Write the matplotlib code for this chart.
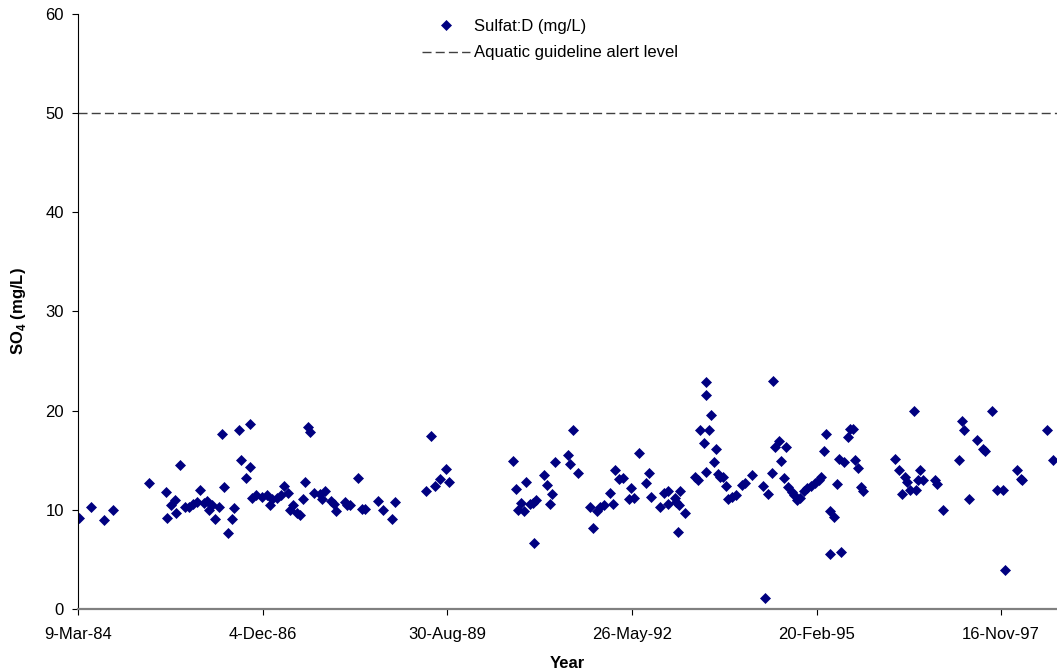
import matplotlib
matplotlib.use('Agg')
import matplotlib.pyplot as plt
from matplotlib.lines import Line2D
import numpy as np
import pandas as pd

plt.rcParams['font.family'] = ['Liberation Sans', 'DejaVu Sans']
plt.rcParams['mathtext.fontset'] = 'custom'
plt.rcParams['mathtext.rm'] = 'Liberation Sans'
plt.rcParams['mathtext.bf'] = 'Liberation Sans:bold'

# sample dates as excel serial day numbers (origin 30-Dec-1899)
sample_day = [
    30754, 30818, 30893, 30941, 31137, 31229, 31233, 31251, 31278, 31283,
    31301, 31327, 31350, 31372, 31395, 31413, 31435, 31450, 31462, 31477,
    31494, 31516, 31531, 31543, 31565, 31585, 31597, 31621, 31634, 31662,
    31679, 31680, 31693, 31716, 31747, 31774, 31788, 31801, 31828, 31850,
    31864, 31886, 31897, 31915, 31937, 31955, 31969, 31982, 31994, 32009,
    32030, 32063, 32074, 32090, 32121, 32135, 32150, 32198, 32207, 32225,
    32265, 32289, 32307, 32375, 32402, 32453, 32467, 32637, 32664, 32686,
    32713, 32742, 32761, 33106, 33122, 33131, 33150, 33164, 33178, 33200,
    33214, 33218, 33232, 33276, 33290, 33304, 33317, 33331, 33402, 33416,
    33429, 33458, 33521, 33537, 33561, 33579, 33597, 33633, 33648, 33660,
    33678, 33702, 33732, 33745, 33759, 33786, 33828, 33844, 33855, 33900,
    33925, 33943, 33945, 33981, 33990, 34000, 34003, 34012, 34039, 34093,
    34106, 34120, 34138, 34151, 34152, 34150, 34165, 34180, 34192, 34205,
    34216, 34228, 34246, 34261, 34273, 34292, 34313, 34346, 34364, 34403,
    34459, 34472, 34487, 34508, 34512, 34526, 34544, 34557, 34571, 34586,
    34598, 34617, 34629, 34644, 34662, 34680, 34698, 34720, 34743, 34761,
    34775, 34788, 34802, 34824, 34823, 34846, 34860, 34869, 34884, 34900,
    34923, 34932, 34947, 34956, 34977, 34992, 35001, 35176, 35199, 35215,
    35230, 35242, 35257, 35279, 35288, 35297, 35311, 35329, 35392, 35402,
    35437, 35519, 35540, 35546, 35577, 35621, 35654, 35663, 35700, 35730,
    35759, 35773, 35835, 35856, 35865, 35997, 36028,
]
sulfate = [
    9.2, 10.3, 9.0, 10.0, 12.7, 11.8, 9.2, 10.5, 11.0, 9.7,
    14.5, 10.3, 10.3, 10.6, 10.8, 12.0, 10.7, 10.9, 10.0, 10.5,
    9.1, 10.3, 17.6, 12.3, 7.7, 9.1, 10.2, 18.0, 15.0, 13.2,
    18.7, 14.3, 11.2, 11.5, 11.3, 11.5, 10.5, 11.1, 11.2, 11.5,
    12.4, 11.7, 10.0, 10.5, 9.7, 9.5, 11.1, 12.8, 18.4, 17.8,
    11.7, 11.6, 11.1, 11.9, 10.9, 10.6, 9.9, 10.8, 10.5, 10.5,
    13.2, 10.1, 10.1, 10.9, 10.0, 9.1, 10.8, 11.9, 17.4, 12.4,
    13.1, 14.1, 12.8, 14.9, 12.1, 10.0, 10.7, 9.9, 12.8, 10.6,
    10.7, 6.7, 11.0, 13.5, 12.5, 10.6, 11.6, 14.8, 15.5, 14.6,
    18.0, 13.7, 10.3, 8.2, 9.9, 10.3, 10.5, 11.7, 10.6, 14.0,
    13.1, 13.2, 11.1, 12.2, 11.2, 15.7, 12.7, 13.7, 11.3, 10.3,
    11.7, 11.9, 10.6, 11.2, 10.8, 7.8, 10.5, 11.9, 9.7, 13.3,
    13.0, 18.0, 16.7, 22.9, 21.6, 13.8, 18.0, 19.6, 14.8, 16.1,
    13.6, 13.3, 13.3, 12.4, 11.1, 11.3, 11.5, 12.5, 12.7, 13.5,
    12.4, 1.1, 11.6, 13.7, 23.0, 16.3, 16.9, 14.9, 13.2, 16.3,
    12.3, 11.8, 11.5, 11.0, 11.2, 11.9, 12.2, 12.4, 12.7, 13.0,
    13.3, 15.9, 17.6, 9.9, 5.5, 9.3, 12.6, 15.1, 5.7, 14.8,
    17.3, 18.1, 18.1, 15.0, 14.2, 12.3, 11.9, 15.1, 14.0, 11.6,
    13.3, 12.8, 12.0, 20.0, 12.0, 13.0, 14.0, 13.0, 13.0, 12.6,
    10.0, 15.0, 19.0, 18.0, 11.1, 17.0, 16.1, 15.9, 20.0, 12.0,
    12.0, 3.9, 14.0, 13.1, 13.0, 18.0, 15.0,
]
alert_level = 50

axis_days = [30750, 36050]
tick_days = [30750, 31750, 32750, 33750, 34750, 35750]
tick_labels = ['9-Mar-84', '4-Dec-86', '30-Aug-89', '26-May-92', '20-Feb-95', '16-Nov-97']
y_ticks = [0, 10, 20, 30, 40, 50, 60]


def to_date(days):
    return pd.to_datetime(np.array(days), unit='D', origin='1899-12-30')


dates = to_date(sample_day)
xlim = to_date(axis_days)

navy = '#000080'
dash_col = '#404040'

fig = plt.figure(figsize=(10.57, 6.72), dpi=100)
ax = fig.add_axes([0.0738, 0.0938, 0.9258, 0.8854])

ax.plot(dates, sulfate, linestyle='none', marker='D', markersize=5,
        markeredgewidth=0.5, color=navy)
ax.plot(xlim, [alert_level, alert_level], color=dash_col, lw=1, dashes=(6.5, 3))

ax.set_xlim(xlim[0], xlim[1])
ax.set_ylim(0, 60)
ax.set_xticks(to_date(tick_days), labels=tick_labels)
ax.set_yticks(y_ticks)

for s in ['top', 'right']:
    ax.spines[s].set_visible(False)
ax.spines['left'].set_color('black')
ax.spines['left'].set_linewidth(0.8)
ax.spines['bottom'].set_color('#808080')
ax.spines['bottom'].set_linewidth(1.6)
ax.tick_params(axis='both', direction='out', length=4, width=0.8, color='black',
               labelsize=12)
ax.tick_params(axis='x', pad=9)
ax.tick_params(axis='y', pad=6)

ax.set_xlabel('Year', fontsize=12, fontweight='bold', labelpad=10)
ax.set_ylabel(r'SO$_\mathbf{4}$ (mg/L)', fontsize=12, fontweight='bold', labelpad=12.5)

handles = [Line2D([], [], linestyle='none', marker='D', markersize=5,
                  markeredgewidth=0.5, color=navy),
           Line2D([], [], color=dash_col, lw=1, dashes=(6.5, 3))]
ax.legend(handles, ['Sulfat:D (mg/L)', 'Aquatic guideline alert level'],
          loc='upper left', bbox_to_anchor=(0.399, 0.972), bbox_transform=fig.transFigure,
          frameon=False, fontsize=12, borderpad=0, borderaxespad=0,
          handlelength=2.9, handletextpad=0.25, labelspacing=0.7)

fig.savefig('out.png', dpi=100)
